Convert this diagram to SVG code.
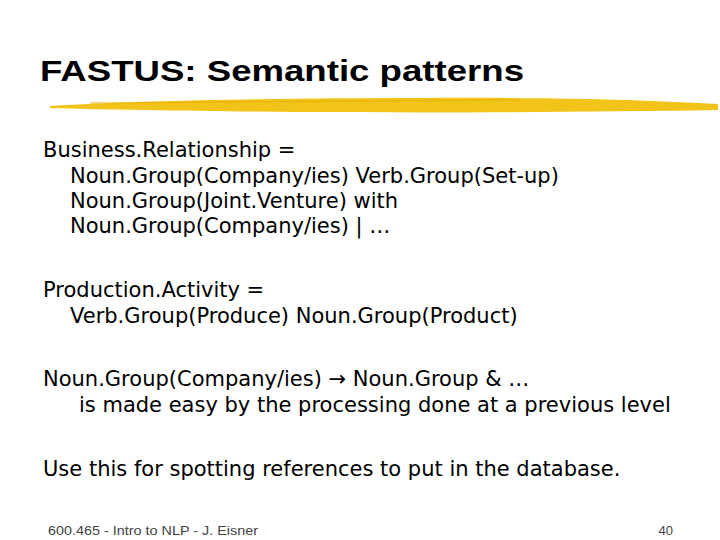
<svg xmlns="http://www.w3.org/2000/svg" width="720" height="540" viewBox="0 0 720 540">
<style>
.b{font-family:"DejaVu Sans",Verdana,sans-serif;font-size:21px;fill:#000}
.f{font-family:"Liberation Sans",Arial,sans-serif;font-size:13px;fill:#444}
</style>
<rect width="720" height="540" fill="#fff"/>
<g id="title">
<text x="40" y="81" font-family="Liberation Sans,Arial,sans-serif" font-weight="bold" font-size="30" fill="#000" textLength="484" lengthAdjust="spacingAndGlyphs">FASTUS: Semantic patterns</text>
<path d="M50,106 C150,100 300,98 420,98 C550,97 650,100 718,104 L718,110 C600,112 450,113 300,112 C200,111 120,110 50,108 Z" fill="#f2c318"/>
<path d="M90,103 L520,100" stroke="#e5b000" stroke-width="1.5" opacity="0.6"/>
</g>
<g id="body">
<text class="b" x="43" y="157">Business.Relationship =</text>
<text class="b" x="70" y="183">Noun.Group(Company/ies) Verb.Group(Set-up)</text>
<text class="b" x="70" y="208">Noun.Group(Joint.Venture) with</text>
<text class="b" x="70" y="233">Noun.Group(Company/ies) | …</text>
<text class="b" x="43" y="297">Production.Activity =</text>
<text class="b" x="70" y="323">Verb.Group(Produce) Noun.Group(Product)</text>
<text class="b" x="43" y="386">Noun.Group(Company/ies) → Noun.Group &amp; …</text>
<text class="b" x="79" y="412">is made easy by the processing done at a previous level</text>
<text class="b" x="43" y="476">Use this for spotting references to put in the database.</text>
</g>
<g id="footer">
<text class="f" x="48" y="535" textLength="210" lengthAdjust="spacingAndGlyphs">600.465 - Intro to NLP - J. Eisner</text>
<text class="f" x="673" y="535" text-anchor="end">40</text>
</g>
</svg>
